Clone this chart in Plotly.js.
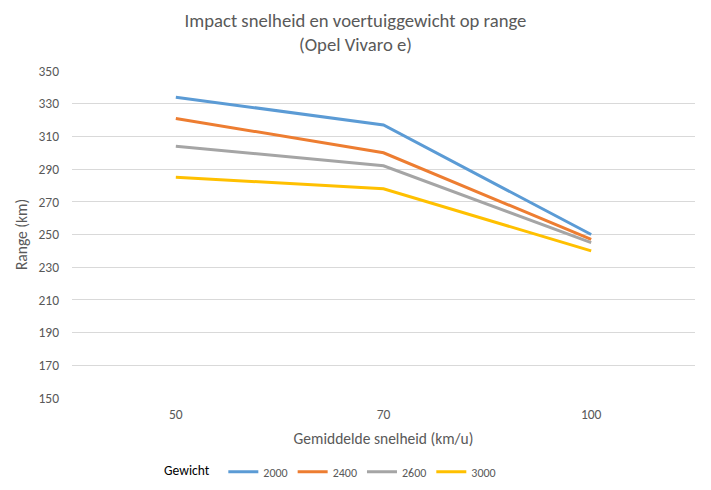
<!DOCTYPE html>
<html>
<head>
<meta charset="utf-8">
<script src="https://cdn.plot.ly/plotly-3.0.1.min.js"></script>
<style>html,body{margin:0;padding:0;background:#fff;}#chart{width:711px;height:490px;}</style>
</head>
<body>
<div id="chart"></div>
<script>
var speeds = ['50', '70', '100'];
var weights = ['2000', '2400', '2600', '3000'];
var range2000 = [334, 317, 250];
var range2400 = [321, 300, 247];
var range2600 = [304, 292, 245];
var range3000 = [285, 278, 240];
var colors = ['#5B9BD5', '#ED7D31', '#A5A5A5', '#FFC000'];
var series = [range2000, range2400, range2600, range3000];
var yTicks = [150, 170, 190, 210, 230, 250, 270, 290, 310, 330, 350];

var font = 'Carlito, Calibri, "Liberation Sans", Arial, sans-serif';
var traces = series.map(function (vals, i) {
  return {
    x: speeds, y: vals, name: weights[i], type: 'scatter', mode: 'lines',
    line: {color: colors[i], width: 3}
  };
});

var layout = {
  width: 711, height: 490,
  margin: {l: 72, r: 16, t: 71, b: 92},
  paper_bgcolor: '#fff', plot_bgcolor: '#fff',
  font: {family: font, color: '#595959', size: 12},
  title: {text: 'Impact snelheid en voertuiggewicht op range<br>(Opel Vivaro e)',
    x: 0.5, xanchor: 'center', xref: 'container', yref: 'container', y: 0.945, yanchor: 'top',
    font: {size: 18.7, color: '#595959', family: font}},
  xaxis: {type: 'category', range: [-0.5, 2.5], showgrid: false, zeroline: false,
    showline: false, ticks: '', ticklabelstandoff: 6, tickfont: {size: 13.5, color: '#595959'},
    title: {text: 'Gemiddelde snelheid (km/u)', font: {size: 15.5, color: '#595959'}, standoff: 11}},
  yaxis: {range: [150, 350], tickvals: yTicks, showgrid: true, gridcolor: '#D9D9D9', gridwidth: 1,
    zeroline: false, showline: false, ticks: '', ticklabelstandoff: 12,
    tickfont: {size: 13.5, color: '#595959'},
    title: {text: 'Range (km)', font: {size: 15.5, color: '#595959'}, standoff: 7}},
  showlegend: true,
  legend: {orientation: 'h', xref: 'container', yref: 'container', x: 0.228, xanchor: 'left',
    y: 0.037, yanchor: 'middle',
    title: {text: 'Gewicht  ', font: {size: 13.5, color: '#000'}},
    font: {size: 12, color: '#595959'}, itemwidth: 30, tracegroupgap: 0}
};

Plotly.newPlot('chart', traces, layout, {displayModeBar: false, staticPlot: true});
</script>
</body>
</html>
